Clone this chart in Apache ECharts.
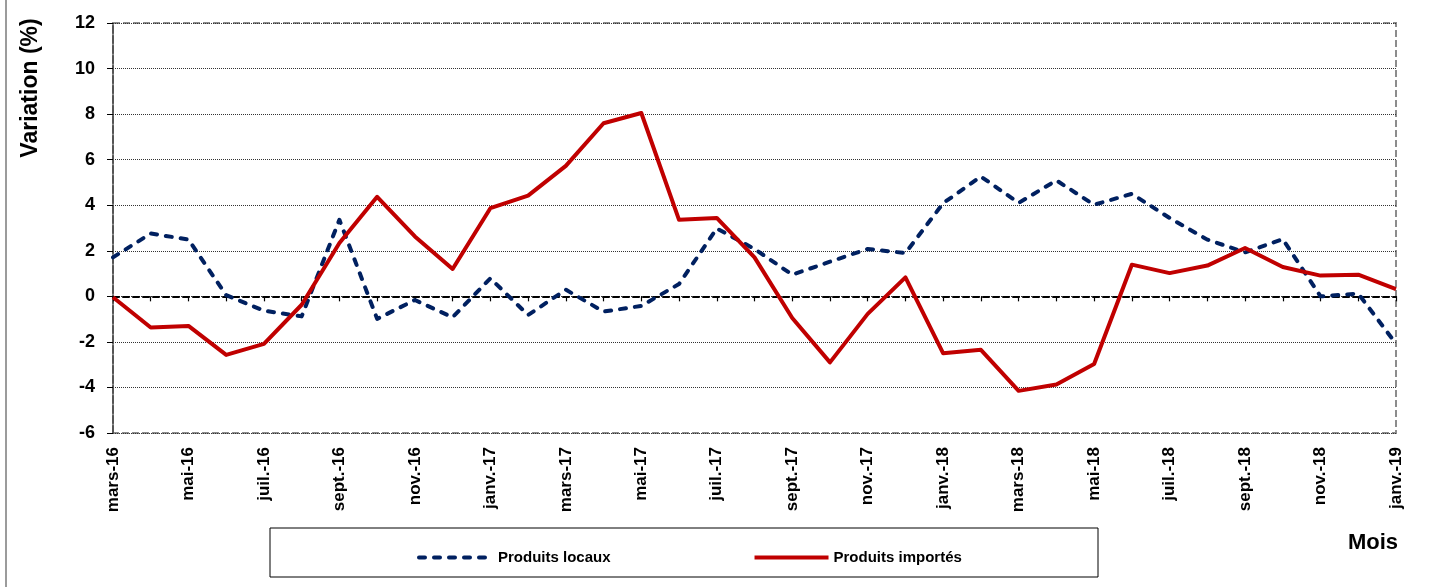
<!DOCTYPE html>
<html>
<head>
<meta charset="utf-8">
<script src="https://cdn.jsdelivr.net/npm/echarts@6/dist/echarts.min.js"></script>
<style>
html,body{margin:0;padding:0;background:#fff;}
#chart{width:1433px;height:587px;}
</style>
</head>
<body>
<div id="chart"></div>
<script>
const months = ['mars-16','avr.-16','mai-16','juin-16','juil.-16','août-16','sept.-16','oct.-16','nov.-16','déc.-16',
  'janv.-17','févr.-17','mars-17','avr.-17','mai-17','juin-17','juil.-17','août-17','sept.-17','oct.-17','nov.-17','déc.-17',
  'janv.-18','févr.-18','mars-18','avr.-18','mai-18','juin-18','juil.-18','août-18','sept.-18','oct.-18','nov.-18','déc.-18',
  'janv.-19'];
const produitsLocaux = [1.71, 2.76, 2.49, 0.05, -0.63, -0.88, 3.36, -0.99, -0.16, -0.92,
  0.79, -0.82, 0.29, -0.67, -0.42, 0.54, 2.98, 2.08, 0.95, 1.52, 2.08, 1.90,
  4.09, 5.26, 4.10, 5.09, 4.02, 4.50, 3.44, 2.49, 1.93, 2.51,
  0.0, 0.12, -2.08];
const produitsImportes = [-0.04, -1.37, -1.30, -2.57, -2.09, -0.37, 2.34, 4.37, 2.63, 1.20,
  3.87, 4.42, 5.73, 7.60, 8.05, 3.36, 3.44, 1.71, -0.95, -2.90, -0.77, 0.83,
  -2.50, -2.35, -4.15, -3.87, -2.97, 1.39, 1.02, 1.35, 2.12, 1.29,
  0.91, 0.95, 0.32];
const seriesNames = ['Produits locaux', 'Produits importés'];
const yTicks = {min: -6, max: 12, interval: 2};
const yTitle = 'Variation (%)';
const xTitle = 'Mois';

const FF = '"Liberation Sans", Arial, sans-serif';
const chart = echarts.init(document.getElementById('chart'), null, {renderer: 'canvas'});
const G = {left: 113, top: 23, width: 1283, height: 410};

chart.setOption({
  animation: false,
  backgroundColor: '#fff',
  grid: {left: G.left, top: G.top, width: G.width, height: G.height, containLabel: false},
  legend: {
    data: seriesNames,
    left: 412, top: 545,
    itemWidth: 74, itemHeight: 14, itemGap: 142,
    itemStyle: {opacity: 0},
    lineStyle: {width: 4},
    textStyle: {fontFamily: FF, fontWeight: 'bold', fontSize: 15, color: '#000'}
  },
  xAxis: [{
    type: 'category', data: months, boundaryGap: false, position: 'bottom',
    axisLine: {show: false, onZero: false},
    axisTick: {show: false},
    splitLine: {show: false},
    axisLabel: {interval: 1, rotate: 90, margin: 14, fontFamily: FF, fontWeight: 'bold', fontSize: 17, color: '#000'}
  }, {
    type: 'category', data: months, boundaryGap: false, position: 'bottom',
    axisLine: {show: true, onZero: true, lineStyle: {color: '#000', width: 2, type: [6, 4]}},
    axisTick: {show: true, interval: 0, length: 5, inside: false, lineStyle: {color: '#000', width: 1.2}},
    axisLabel: {show: false},
    splitLine: {show: false}
  }],
  yAxis: {
    type: 'value', min: yTicks.min, max: yTicks.max, interval: yTicks.interval,
    axisLine: {show: true, onZero: false, lineStyle: {color: '#555', width: 2, type: [7, 3]}},
    axisTick: {show: true, length: 6, inside: false, lineStyle: {color: '#000', width: 1}},
    axisLabel: {margin: 18, fontFamily: FF, fontWeight: 'bold', fontSize: 18, color: '#000'},
    splitLine: {show: true, lineStyle: {color: '#333', width: 1, type: [1, 1]}}
  },
  series: [{
    name: seriesNames[0], type: 'line', data: produitsLocaux, symbol: 'none', z: 3,
    lineStyle: {color: '#002060', width: 4, type: [6, 9], cap: 'round', join: 'round'},
    itemStyle: {color: '#002060'}
  }, {
    name: seriesNames[1], type: 'line', data: produitsImportes, symbol: 'none', z: 4,
    lineStyle: {color: '#C00000', width: 4, type: 'solid', join: 'round'},
    itemStyle: {color: '#C00000'}
  }],
  graphic: [
    {type: 'rect', silent: true, z: -1, shape: {x: G.left, y: G.top, width: G.width, height: G.height},
     style: {fill: 'none', stroke: '#8c8c8c', lineWidth: 2, lineDash: [7, 3]}},
    {type: 'line', silent: true, shape: {x1: 6, y1: 0, x2: 6, y2: 587},
     style: {stroke: '#7a7a7a', lineWidth: 1.5}},
    {type: 'rect', silent: true, z: -1, shape: {x: 270, y: 528, width: 828, height: 49},
     style: {fill: '#fff', stroke: '#000', lineWidth: 1}},
    {type: 'text', silent: true, x: 31, y: 88, rotation: Math.PI / 2,
     style: {text: yTitle, x: 0, y: 0, textAlign: 'center', textVerticalAlign: 'middle',
             font: 'bold 23px ' + FF, fill: '#000'}},
    {type: 'text', silent: true, x: 1373, y: 543,
     style: {text: xTitle, x: 0, y: 0, textAlign: 'center', textVerticalAlign: 'middle',
             font: 'bold 22px ' + FF, fill: '#000'}}
  ]
});
</script>
</body>
</html>
